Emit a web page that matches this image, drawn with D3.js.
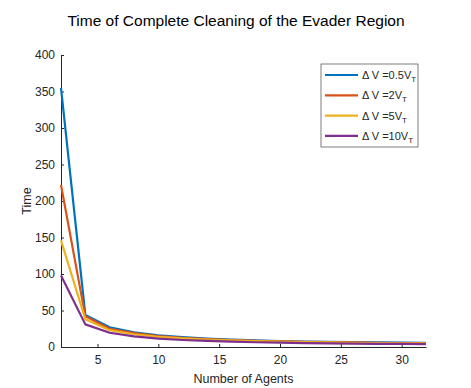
<!DOCTYPE html>
<html>
<head>
<meta charset="utf-8">
<script src="https://cdn.jsdelivr.net/npm/d3@7"></script>
<style>
  body { margin: 0; background: #fff; }
  svg text { font-family: "Liberation Sans", Arial, sans-serif; fill: #262626; }
</style>
</head>
<body>
<div id="chart"></div>
<script>
// number of agents
const agents = [2, 4, 6, 8, 10, 12, 14, 16, 18, 20, 22, 24, 26, 28, 30, 32];

// time for each speed difference
const dv05 = [355, 44, 27, 20, 16, 13.5, 11.5, 10, 9, 8.2, 7.5, 7, 6.6, 6.2, 5.9, 5.6];
const dv2  = [222, 42, 25, 19, 15, 12.5, 10.8, 9.5, 8.5, 7.7, 7.1, 6.6, 6.2, 5.8, 5.5, 5.2];
const dv5  = [146, 38, 23, 17.5, 14, 11.8, 10.2, 9, 8, 7.3, 6.7, 6.2, 5.8, 5.4, 5.1, 4.9];
const dv10 = [98, 31, 19.5, 14.5, 11.5, 9.6, 8.3, 7.3, 6.5, 5.9, 5.4, 5, 4.7, 4.4, 4.2, 4];

const seriesNames = ['0.5', '2', '5', '10'];
const seriesColors = ['#0072BD', '#D95319', '#EDB120', '#7E2F8E'];
const xTicks = [5, 10, 15, 20, 25, 30];
const yTicks = [0, 50, 100, 150, 200, 250, 300, 350, 400];

const series = [dv05, dv2, dv5, dv10].map((vals, i) => ({
  name: seriesNames[i],
  color: seriesColors[i],
  values: vals.map((v, j) => ({ n: agents[j], t: v }))
}));

const widthTotal = 471, heightTotal = 388;
const margin = { top: 55, right: 45, bottom: 41, left: 61 };
const width = widthTotal - margin.left - margin.right;
const height = heightTotal - margin.top - margin.bottom;

const svg = d3.select('#chart').append('svg')
    .attr('width', widthTotal)
    .attr('height', heightTotal);

const g = svg.append('g')
    .attr('transform', `translate(${margin.left}, ${margin.top})`);

const xScale = d3.scaleLinear().domain([2, 32]).range([0, width]);
const yScale = d3.scaleLinear().domain([0, 400]).range([height, 0]);

// axes, ticks point inward like matlab
const xAxis = g.append('g')
    .attr('transform', `translate(0, ${height})`)
    .call(d3.axisBottom(xScale).tickValues(xTicks).tickSizeInner(-3).tickSizeOuter(0).tickPadding(8));
const yAxis = g.append('g')
    .call(d3.axisLeft(yScale).tickValues(yTicks).tickSizeInner(-3).tickSizeOuter(0).tickPadding(6));

[xAxis, yAxis].forEach(ax => {
  ax.select('.domain').attr('stroke', '#262626');
  ax.selectAll('.tick line').attr('stroke', '#262626');
  ax.selectAll('.tick text')
      .style('font-size', '12px')
      .style('font-family', '"Liberation Sans", Arial, sans-serif')
      .attr('fill', '#262626');
});

// lines
const line = d3.line()
    .x(d => xScale(d.n))
    .y(d => yScale(d.t));

g.selectAll('.series')
  .data(series)
  .enter()
  .append('path')
    .attr('class', 'series')
    .attr('fill', 'none')
    .attr('stroke', d => d.color)
    .attr('stroke-width', 2.2)
    .attr('stroke-linejoin', 'round')
    .attr('d', d => line(d.values));

// title + labels
svg.append('text')
    .attr('x', 236)
    .attr('y', 26)
    .attr('text-anchor', 'middle')
    .style('font-size', '15.5px')
    .attr('fill', '#000')
    .style('fill', '#000')
    .text('Time of Complete Cleaning of the Evader Region');

svg.append('text')
    .attr('x', margin.left + width / 2)
    .attr('y', 383)
    .attr('text-anchor', 'middle')
    .style('font-size', '12.5px')
    .text('Number of Agents');

svg.append('text')
    .attr('transform', `translate(31, ${margin.top + height / 2}) rotate(-90)`)
    .attr('text-anchor', 'middle')
    .style('font-size', '12.5px')
    .text('Time');

// legend
const legend = svg.append('g').attr('transform', 'translate(321, 64)');
legend.append('rect')
    .attr('width', 97)
    .attr('height', 83)
    .attr('fill', '#fff')
    .attr('stroke', '#262626')
    .attr('stroke-width', 0.6);

series.forEach((s, idx) => {
  const row = legend.append('g').attr('transform', `translate(0, ${11 + idx * 20.3})`);
  row.append('line')
      .attr('x1', 4).attr('x2', 37)
      .attr('y1', 0).attr('y2', 0)
      .attr('stroke', s.color)
      .attr('stroke-width', 2.2);
  const txt = row.append('text')
      .attr('x', 41)
      .attr('y', 4)
      .style('font-size', '11px');
  txt.append('tspan').text(`\u0394 V =${s.name}V`);
  txt.append('tspan').attr('dy', 3).style('font-size', '8px').text('T');
});
</script>
</body>
</html>
